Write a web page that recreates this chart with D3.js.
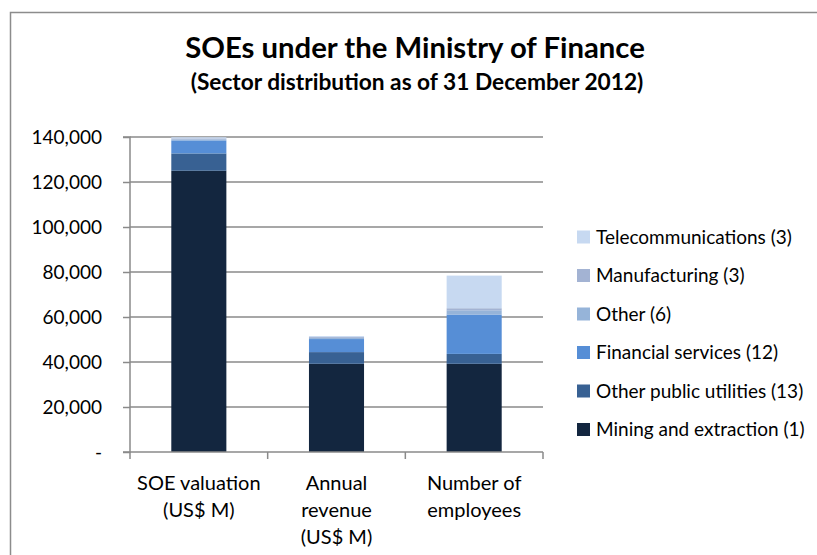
<!DOCTYPE html>
<html lang="en">
<head>
<meta charset="utf-8"/>
<title>SOEs under the Ministry of Finance</title>
<script src="https://d3js.org/d3.v7.min.js"></script>
<style>
  html, body { margin: 0; padding: 0; background: #fff; }
  svg { display: block; font-family: Lato, "Open Sans", sans-serif; }
</style>
</head>
<body>
<div id="chart"></div>
<script>
  // categories and series
  const categories = [
    ["SOE valuation", "(US$ M)"],
    ["Annual", "revenue", "(US$ M)"],
    ["Number of", "employees"]
  ];
  const sectors = [
    "Mining and extraction (1)",
    "Other public utilities (13)",
    "Financial services (12)",
    "Other (6)",
    "Manufacturing (3)",
    "Telecommunications (3)"
  ];
  const mining      = [125000, 39200, 39200];
  const utilities   = [7700, 5200, 4400];
  const financial   = [5800, 5800, 17500];
  const other       = [500, 500, 1900];
  const manufacture = [400, 400, 900];
  const telecom     = [500, 400, 14500];
  const yTicks = [0, 20000, 40000, 60000, 80000, 100000, 120000, 140000];
  const colors = ["#13263f", "#386193", "#568ed6", "#96b4d9", "#a3b3d3", "#c7d9f1"];

  const width = 817, height = 555;
  const series = [mining, utilities, financial, other, manufacture, telecom];

  const svg = d3.select("#chart").append("svg")
      .attr("width", width)
      .attr("height", height);

  // outer chart border (runs off the right and bottom edges)
  svg.append("path")
      .attr("d", "M10.5,560V12.5H830")
      .attr("fill", "none")
      .attr("stroke", "#8c8c8c")
      .attr("stroke-width", 1.5);

  // title
  svg.append("text")
      .attr("x", 415).attr("y", 58)
      .attr("text-anchor", "middle")
      .attr("font-weight", "bold")
      .attr("font-size", 29.3)
      .attr("fill", "#000")
      .text("SOEs under the Ministry of Finance");
  svg.append("text")
      .attr("x", 417).attr("y", 90)
      .attr("text-anchor", "middle")
      .attr("font-weight", "bold")
      .attr("font-size", 22.7)
      .attr("fill", "#000")
      .text("(Sector distribution as of 31 December 2012)");

  const x = d3.scaleBand()
      .domain(d3.range(categories.length))
      .range([130, 543])
      .paddingInner(0.6)
      .paddingOuter(0.3);

  const y = d3.scaleLinear()
      .domain([0, 140000])
      .range([452, 137]);

  // gridlines
  svg.append("g")
    .selectAll("line")
    .data(yTicks.slice(1))
    .join("line")
      .attr("x1", 130).attr("x2", 543)
      .attr("y1", d => y(d)).attr("y2", d => y(d))
      .attr("stroke", "#8a8a8a")
      .attr("stroke-width", 1.5);

  // stacked bars
  const rows = d3.range(categories.length).map(i => {
    const r = { i };
    series.forEach((s, k) => r[k] = s[i]);
    return r;
  });
  const stack = d3.stack().keys(d3.range(series.length))(rows);

  svg.append("g")
    .selectAll("g")
    .data(stack)
    .join("g")
      .attr("fill", (d, k) => colors[k])
    .selectAll("rect")
    .data(d => d)
    .join("rect")
      .attr("x", d => x(d.data.i))
      .attr("width", x.bandwidth())
      .attr("y", d => y(d[1]))
      .attr("height", d => y(d[0]) - y(d[1]));

  // y axis
  const yAxis = d3.axisLeft(y)
      .tickValues(yTicks)
      .tickSize(7)
      .tickPadding(21)
      .tickFormat(d => d === 0 ? "-" : d3.format(",")(d));
  const gy = svg.append("g")
      .attr("transform", "translate(130,0)")
      .call(yAxis);
  gy.select(".domain").attr("stroke", "#8a8a8a").attr("stroke-width", 1.5)
      .attr("d", "M-7," + y(140000) + "H0V" + y(0) + "H-7");
  gy.selectAll(".tick line").attr("stroke", "#8a8a8a").attr("stroke-width", 1.5);
  gy.selectAll(".tick text")
      .attr("font-size", 19)
      .attr("fill", "#000")
      .attr("font-family", "Lato, sans-serif");

  // x axis line and tick marks at band boundaries
  const gx = svg.append("g");
  gx.append("line")
      .attr("x1", 130).attr("x2", 543)
      .attr("y1", y(0)).attr("y2", y(0))
      .attr("stroke", "#8a8a8a").attr("stroke-width", 1.5);
  const step = (543 - 130) / categories.length;
  gx.selectAll(".xt")
    .data(d3.range(categories.length + 1))
    .join("line")
      .attr("class", "xt")
      .attr("x1", d => 130 + d * step).attr("x2", d => 130 + d * step)
      .attr("y1", y(0)).attr("y2", y(0) + 7)
      .attr("stroke", "#8a8a8a").attr("stroke-width", 1.5);

  // category labels
  gx.selectAll(".cat")
    .data(categories)
    .join("text")
      .attr("class", "cat")
      .attr("text-anchor", "middle")
      .attr("font-size", 20)
      .attr("fill", "#000")
    .selectAll("tspan")
    .data((d, i) => d.map(line => ({ line, i })))
    .join("tspan")
      .attr("x", d => x(d.i) + x.bandwidth() / 2)
      .attr("y", (d, j) => 490 + j * 27)
      .text(d => d.line);

  // legend (top entry is the top of the stack)
  const legend = svg.append("g")
    .selectAll("g")
    .data(sectors.map((s, k) => ({ s, k })).reverse())
    .join("g")
      .attr("transform", (d, j) => `translate(577,${237 + j * 38.5})`);
  legend.append("rect")
      .attr("x", 0).attr("y", -6.5)
      .attr("width", 13).attr("height", 13)
      .attr("fill", d => colors[d.k]);
  legend.append("text")
      .attr("x", 19).attr("y", 6.5)
      .attr("font-size", 19)
      .attr("fill", "#000")
      .text(d => d.s);
</script>
</body>
</html>
